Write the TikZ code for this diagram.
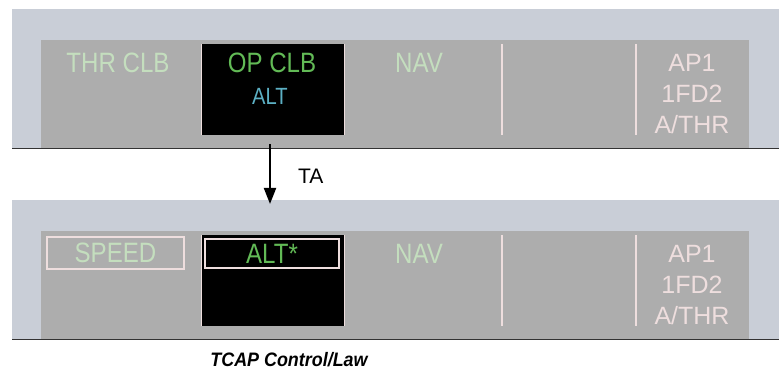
\documentclass[tikz,border=0pt]{standalone}
\usepackage{fontspec}
\setmainfont{Liberation Sans}
\newfontfamily\dispfont[FakeStretch=0.86]{Liberation Sans}
\newfontfamily\capfont[FakeStretch=0.92]{Liberation Sans}
\usetikzlibrary{arrows.meta}
\definecolor{framegray}{RGB}{201,206,215}
\definecolor{panelgray}{RGB}{173,173,173}
\definecolor{palegreen}{RGB}{196,222,190}
\definecolor{fmagreen}{RGB}{98,186,86}
\definecolor{fmacyan}{RGB}{92,176,196}
\definecolor{fmawhite}{RGB}{238,222,222}
\tikzset{
  modetxt/.style={font=\dispfont\fontsize{21}{25}\selectfont, inner sep=0pt},
  aptxt/.style={font=\fontsize{18.75}{23}\selectfont, text=fmawhite, align=center, inner sep=0pt},
  armbox/.style={draw=fmawhite, line width=1.5pt, inner sep=0pt}
}
\begin{document}
\begin{tikzpicture}[x=0.75pt,y=-0.75pt]
\useasboundingbox (0,0) rectangle (782,374);
\foreach \p/\y in {top/9,bot/200}{
  \fill[framegray] (12,\y) rectangle (779,\y+139);
  \fill[panelgray] (41,\y+31) rectangle (749,\y+139);
  \draw[gray!40!black] (12,\y+139) -- (779,\y+139);
  \fill[black] (201,\y+35) rectangle (344,\y+126);
  \draw[fmawhite, line width=0.75pt] (201,\y+35) -- (201,\y+126) (344,\y+35) -- (344,\y+126);
  \draw[fmawhite, line width=1.5pt] (502,\y+35) -- (502,\y+126) (636,\y+35) -- (636,\y+126);
  \node[modetxt, text=palegreen] (nav\p) at (419,\y+54) {NAV};
  \node[aptxt] (ap\p) at (692,\y+85) {AP1\\1FD2\\A/THR};
}
\node[modetxt, text=palegreen] (thrclb) at (118,63) {THR CLB};
\node[modetxt, text=fmagreen] (opclb) at (272,63) {OP CLB};
\node[modetxt, font=\dispfont\fontsize{17.6}{20}\selectfont, text=fmacyan] (alt) at (270,96) {ALT};
\node[armbox, modetxt, text=palegreen, minimum width=102.75pt, minimum height=24pt] (speed) at (115.5,253) {SPEED};
\node[armbox, modetxt, text=fmagreen, minimum width=100.5pt, minimum height=21.75pt] (altstar) at (272,253.5) {ALT*};
\coordinate (ta1) at (270,144);
\coordinate (ta2) at (270,204);
\draw[line width=1.5pt, -{Triangle[length=12pt,width=9pt]}] (ta1) -- (ta2)
  node[pos=0.53, right=17pt, font=\fontsize{15.75}{18}\selectfont] (ta) {TA};
\node[font=\capfont\bfseries\itshape\fontsize{14.6}{17}\selectfont] (caption) at (289,360) {TCAP Control/Law};
\end{tikzpicture}
\end{document}
